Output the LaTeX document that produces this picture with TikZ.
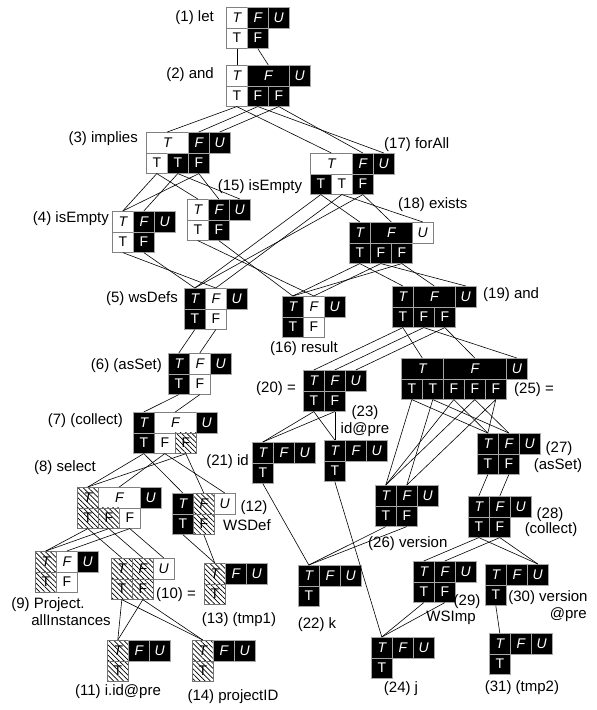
\documentclass[tikz,border=0pt]{standalone}
\usepackage{fontspec}
\setmainfont{Liberation Sans}
\usetikzlibrary{patterns.meta}

% origin of the current table
\newcommand{\org}[2]{\def\ox{#1}\def\oy{#2}}
% top-row cell: name, style, column, span, letter
\newcommand{\tc}[5]{\node[#2,minimum width={#4*21pt},anchor=north west] (#1) at ({\ox+#3*21},\oy) {\itshape #5};}
% bottom-row cell: name, style, column, letter
\newcommand{\bc}[4]{\node[#2,minimum width=21pt,anchor=north west] (#1) at ({\ox+#3*21},{\oy+20.5}) {#4};}
% connector from a bottom cell to a top cell
\newcommand{\ed}[2]{\draw[edge] (#1.south) -- (#2.north);}

\tikzset{
  cellbase/.style={draw=gray!70, line width=0.6pt, inner sep=0pt, minimum height=20.5pt,
    font=\fontsize{14}{14}\selectfont},
  bk/.style={cellbase, fill=black, text=white},
  wt/.style={cellbase, fill=white, text=black, draw=gray},
  ht/.style={cellbase, draw=gray!90!black, pattern={Lines[angle=-45,distance=3.6pt,line width=0.7pt]}, text=black},
  lbl/.style={inner sep=0pt, font=\fontsize{15}{17}\selectfont},
  edge/.style={draw=black, line width=0.6pt},
}

\begin{document}
\begin{tikzpicture}[x=1pt,y=-1pt]
\useasboundingbox (0,0) rectangle (597,710);
\fill[white] (0,0) rectangle (597,710);

% (1) let
\org{226}{7}
\tc{t1T}{wt}{0}{1}{T}\tc{t1F}{bk}{1}{1}{F}\tc{t1U}{bk}{2}{1}{U}
\bc{b1a}{wt}{0}{T}\bc{b1b}{bk}{1}{F}
% (2) and
\org{226}{65}
\tc{t2T}{wt}{0}{1}{T}\tc{t2F}{bk}{1}{2}{F}\tc{t2U}{bk}{3}{1}{U}
\bc{b2a}{wt}{0}{T}\bc{b2b}{bk}{1}{F}\bc{b2c}{bk}{2}{F}
% (3) implies
\org{146}{132}
\tc{t3T}{wt}{0}{2}{T}\tc{t3F}{bk}{2}{1}{F}\tc{t3U}{bk}{3}{1}{U}
\bc{b3a}{wt}{0}{T}\bc{b3b}{bk}{1}{T}\bc{b3c}{bk}{2}{F}
% (17) forAll
\org{310}{153}
\tc{t17T}{wt}{0}{2}{T}\tc{t17F}{bk}{2}{1}{F}\tc{t17U}{bk}{3}{1}{U}
\bc{b17a}{bk}{0}{T}\bc{b17b}{wt}{1}{T}\bc{b17c}{bk}{2}{F}
% (15) isEmpty
\org{187}{199}
\tc{t15T}{wt}{0}{1}{T}\tc{t15F}{bk}{1}{1}{F}\tc{t15U}{bk}{2}{1}{U}
\bc{b15a}{wt}{0}{T}\bc{b15b}{bk}{1}{F}
% (4) isEmpty
\org{112}{211}
\tc{t4T}{wt}{0}{1}{T}\tc{t4F}{bk}{1}{1}{F}\tc{t4U}{bk}{2}{1}{U}
\bc{b4a}{wt}{0}{T}\bc{b4b}{bk}{1}{F}
% (18) exists
\org{349}{222}
\tc{t18T}{bk}{0}{1}{T}\tc{t18F}{bk}{1}{2}{F}\tc{t18U}{wt}{3}{1}{U}
\bc{b18a}{bk}{0}{T}\bc{b18b}{bk}{1}{F}\bc{b18c}{bk}{2}{F}
% (5) wsDefs
\org{184}{288}
\tc{t5T}{bk}{0}{1}{T}\tc{t5F}{wt}{1}{1}{F}\tc{t5U}{bk}{2}{1}{U}
\bc{b5a}{bk}{0}{T}\bc{b5b}{wt}{1}{F}
% (16) result
\org{282}{296}
\tc{t16T}{bk}{0}{1}{T}\tc{t16F}{wt}{1}{1}{F}\tc{t16U}{bk}{2}{1}{U}
\bc{b16a}{bk}{0}{T}\bc{b16b}{wt}{1}{F}
% (19) and
\org{392}{286}
\tc{t19T}{bk}{0}{1}{T}\tc{t19F}{bk}{1}{2}{F}\tc{t19U}{bk}{3}{1}{U}
\bc{b19a}{bk}{0}{T}\bc{b19b}{bk}{1}{F}\bc{b19c}{bk}{2}{F}
% (25) =
\org{401}{358}
\tc{t25T}{bk}{0}{2}{T}\tc{t25F}{bk}{2}{3}{F}\tc{t25U}{bk}{5}{1}{U}
\bc{b25a}{bk}{0}{T}\bc{b25b}{bk}{1}{T}\bc{b25c}{bk}{2}{F}\bc{b25d}{bk}{3}{F}\bc{b25e}{bk}{4}{F}
% (6) (asSet)
\org{168}{353}
\tc{t6T}{bk}{0}{1}{T}\tc{t6F}{wt}{1}{1}{F}\tc{t6U}{bk}{2}{1}{U}
\bc{b6a}{bk}{0}{T}\bc{b6b}{wt}{1}{F}
% (20) =
\org{303}{370}
\tc{t20T}{bk}{0}{1}{T}\tc{t20F}{bk}{1}{1}{F}\tc{t20U}{bk}{2}{1}{U}
\bc{b20a}{bk}{0}{T}\bc{b20b}{bk}{1}{F}
% (7) (collect)
\org{133}{412}
\tc{t7T}{bk}{0}{1}{T}\tc{t7F}{wt}{1}{2}{F}\tc{t7U}{bk}{3}{1}{U}
\bc{b7a}{bk}{0}{T}\bc{b7b}{wt}{1}{F}\bc{b7c}{ht}{2}{F}
% (21) id
\org{252}{442}
\tc{t21T}{bk}{0}{1}{T}\tc{t21F}{bk}{1}{1}{F}\tc{t21U}{bk}{2}{1}{U}
\bc{b21a}{bk}{0}{T}
% (23) id@pre
\org{324}{440}
\tc{t23T}{bk}{0}{1}{T}\tc{t23F}{bk}{1}{1}{F}\tc{t23U}{bk}{2}{1}{U}
\bc{b23a}{bk}{0}{T}
% (27) (asSet)
\org{477}{433}
\tc{t27T}{bk}{0}{1}{T}\tc{t27F}{bk}{1}{1}{F}\tc{t27U}{bk}{2}{1}{U}
\bc{b27a}{bk}{0}{T}\bc{b27b}{bk}{1}{F}
% (8) select
\org{77}{487}
\tc{t8T}{ht}{0}{1}{T}\tc{t8F}{wt}{1}{2}{F}\tc{t8U}{bk}{3}{1}{U}
\bc{b8a}{ht}{0}{T}\bc{b8b}{ht}{1}{F}\bc{b8c}{wt}{2}{F}
% (12) WSDef
\org{172}{493}
\tc{t12T}{bk}{0}{1}{T}\tc{t12F}{ht}{1}{1}{F}\tc{t12U}{wt}{2}{1}{U}
\bc{b12a}{bk}{0}{T}\bc{b12b}{ht}{1}{F}
% (26) version
\org{375}{485}
\tc{t26T}{bk}{0}{1}{T}\tc{t26F}{bk}{1}{1}{F}\tc{t26U}{bk}{2}{1}{U}
\bc{b26a}{bk}{0}{T}\bc{b26b}{bk}{1}{F}
% (28) (collect)
\org{468}{496}
\tc{t28T}{bk}{0}{1}{T}\tc{t28F}{bk}{1}{1}{F}\tc{t28U}{bk}{2}{1}{U}
\bc{b28a}{bk}{0}{T}\bc{b28b}{bk}{1}{F}
% (9) Project.allInstances
\org{35}{551}
\tc{t9T}{ht}{0}{1}{T}\tc{t9F}{wt}{1}{1}{F}\tc{t9U}{bk}{2}{1}{U}
\bc{b9a}{ht}{0}{T}\bc{b9b}{wt}{1}{F}
% (10) =
\org{111}{558}
\tc{t10T}{ht}{0}{1}{T}\tc{t10F}{ht}{1}{1}{F}\tc{t10U}{wt}{2}{1}{U}
\bc{b10a}{ht}{0}{T}\bc{b10b}{ht}{1}{F}
% (13) (tmp1)
\org{204}{563}
\tc{t13T}{ht}{0}{1}{T}\tc{t13F}{bk}{1}{1}{F}\tc{t13U}{bk}{2}{1}{U}
\bc{b13a}{ht}{0}{T}
% (29) WSImp
\org{413}{561}
\tc{t29T}{bk}{0}{1}{T}\tc{t29F}{bk}{1}{1}{F}\tc{t29U}{bk}{2}{1}{U}
\bc{b29a}{bk}{0}{T}\bc{b29b}{bk}{1}{F}
% (30) version@pre
\org{485}{564}
\tc{t30T}{bk}{0}{1}{T}\tc{t30F}{bk}{1}{1}{F}\tc{t30U}{bk}{2}{1}{U}
\bc{b30a}{bk}{0}{T}
% (22) k
\org{298}{565}
\tc{t22T}{bk}{0}{1}{T}\tc{t22F}{bk}{1}{1}{F}\tc{t22U}{bk}{2}{1}{U}
\bc{b22a}{bk}{0}{T}
% (11) i.id@pre
\org{107}{640}
\tc{t11T}{ht}{0}{1}{T}\tc{t11F}{bk}{1}{1}{F}\tc{t11U}{bk}{2}{1}{U}
\bc{b11a}{ht}{0}{T}
% (14) projectID
\org{192}{640}
\tc{t14T}{ht}{0}{1}{T}\tc{t14F}{bk}{1}{1}{F}\tc{t14U}{bk}{2}{1}{U}
\bc{b14a}{ht}{0}{T}
% (31) (tmp2)
\org{489}{633}
\tc{t31T}{bk}{0}{1}{T}\tc{t31F}{bk}{1}{1}{F}\tc{t31U}{bk}{2}{1}{U}
\bc{b31a}{bk}{0}{T}
% (24) j
\org{371}{637}
\tc{t24T}{bk}{0}{1}{T}\tc{t24F}{bk}{1}{1}{F}\tc{t24U}{bk}{2}{1}{U}
\bc{b24a}{bk}{0}{T}

% labels
\node[lbl,anchor=east] (l1) at (214,18) {(1) let};
\node[lbl,anchor=east] (l2) at (214,75) {(2) and};
\node[lbl,anchor=east] (l3) at (138,139) {(3) implies};
\node[lbl,anchor=west] (l17) at (384,145) {(17) forAll};
\node[lbl] (l15) at (260,187) {(15) isEmpty};
\node[lbl,anchor=east] (l4) at (109,219) {(4) isEmpty};
\node[lbl,anchor=west] (l18) at (398,205) {(18) exists};
\node[lbl,anchor=east] (l5) at (178,299) {(5) wsDefs};
\node[lbl] (l16) at (304,349) {(16) result};
\node[lbl,anchor=west] (l19) at (483,295) {(19) and};
\node[lbl,anchor=west] (l25) at (514,390) {(25) =};
\node[lbl,anchor=east] (l6) at (162,366) {(6) (asSet)};
\node[lbl,anchor=east] (l20) at (296,389) {(20) =};
\node[lbl,anchor=east] (l7) at (123,421) {(7) (collect)};
\node[lbl,anchor=east] (l21) at (249,462) {(21) id};
\node[lbl] (l23a) at (365,413) {(23)};
\node[lbl] (l23b) at (365,430) {id@pre};
\node[lbl] (l27a) at (559,449) {(27)};
\node[lbl] (l27b) at (558,466) {(asSet)};
\node[lbl] (l8) at (65,468) {(8) select};
\node[lbl] (l12a) at (254,508) {(12)};
\node[lbl] (l12b) at (247,525) {WSDef};
\node[lbl,anchor=west] (l26) at (368,544) {(26) version};
\node[lbl] (l28a) at (550,515) {(28)};
\node[lbl] (l28b) at (551,530) {(collect)};
\node[lbl] (l9a) at (48,605) {(9) Project.};
\node[lbl] (l9b) at (71,620) {allInstances};
\node[lbl,anchor=west] (l10) at (156,595) {(10) =};
\node[lbl] (l13) at (239,620) {(13) (tmp1)};
\node[lbl] (l29a) at (467,602) {(29)};
\node[lbl] (l29b) at (451,618) {WSImp};
\node[lbl] (l30a) at (548,598) {(30) version};
\node[lbl,anchor=east] (l30b) at (587,615) {@pre};
\node[lbl] (l22) at (317,625) {(22) k};
\node[lbl] (l11) at (118,692) {(11) i.id@pre};
\node[lbl] (l14) at (233,697) {(14) projectID};
\node[lbl] (l31) at (522,688) {(31) (tmp2)};
\node[lbl] (l24) at (401,689) {(24) j};

% connectors
\ed{b1a}{t2T}\ed{b1b}{t2F}
\ed{b2a}{t3T}\ed{b2a}{t17T}\ed{b2b}{t3F}\ed{b2b}{t17U}\ed{b2c}{t3U}\ed{b2c}{t17F}
\ed{b3a}{t4T}\ed{b3a}{t15T}\ed{b3b}{t4F}\ed{b3b}{t15U}\ed{b3c}{t4T}\ed{b3c}{t15F}
\ed{b17a}{t5T}\ed{b17a}{t18T}\ed{b17b}{t5F}\ed{b17b}{t18U}\ed{b17c}{t5T}\ed{b17c}{t18F}
\ed{b4a}{t5F}\ed{b4b}{t5T}
\ed{b15a}{t16F}\ed{b15b}{t16T}
\ed{b18a}{t16T}\ed{b18a}{t19T}\ed{b18b}{t16F}\ed{b18b}{t19U}\ed{b18c}{t16T}\ed{b18c}{t19F}
\ed{b5a}{t6T}\ed{b5b}{t6F}
\ed{b6a}{t7T}\ed{b6b}{t7F}
\ed{b19a}{t20T}\ed{b19a}{t25T}\ed{b19b}{t20F}\ed{b19b}{t25U}\ed{b19c}{t20U}\ed{b19c}{t25F}
\ed{b20a}{t21T}\ed{b20a}{t23T}\ed{b20b}{t21T}\ed{b20b}{t23T}
\ed{b21a}{t22T}
\ed{b23a}{t24T}
\ed{b25a}{t26T}\ed{b25a}{t27T}\ed{b25b}{t26F}\ed{b25b}{t27F}\ed{b25c}{t26T}\ed{b25c}{t27T}
\ed{b25d}{t26T}\ed{b25d}{t27F}\ed{b25e}{t26F}\ed{b25e}{t27T}
\ed{b26a}{t22T}\ed{b26b}{t22T}
\ed{b27a}{t28T}\ed{b27b}{t28F}
\ed{b28a}{t29T}\ed{b28a}{t30U}\ed{b28b}{t29F}\ed{b28b}{t30U}
\ed{b29a}{t24T}\ed{b29b}{t24T}
\ed{b30a}{t31T}
\ed{b7a}{t8T}\ed{b7a}{t12T}\ed{b7b}{t8F}\ed{b7b}{t12U}\ed{b7c}{t8T}\ed{b7c}{t12F}
\ed{b8a}{t9T}\ed{b8a}{t10T}\ed{b8b}{t9T}\ed{b8b}{t10F}\ed{b8c}{t9F}\ed{b8c}{t10U}
\ed{b12a}{t13T}\ed{b12b}{t13T}
\ed{b10a}{t11T}\ed{b10a}{t14T}\ed{b10b}{t11T}\ed{b10b}{t14T}
\end{tikzpicture}
\end{document}
